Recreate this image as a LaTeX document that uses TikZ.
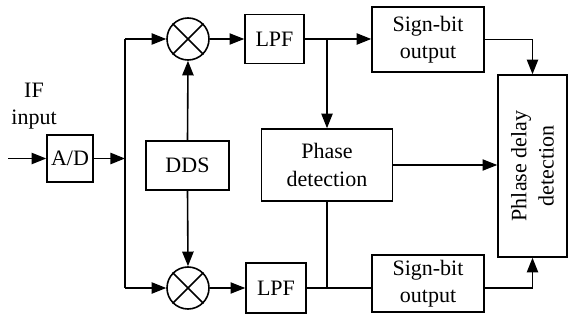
\documentclass[tikz,border=0pt]{standalone}
\usepackage{fontspec}
\setmainfont{Liberation Serif}
\usetikzlibrary{arrows.meta}
\begin{document}
\begin{tikzpicture}[x=0.75pt,y=-0.75pt,
  every node/.style={font=\fontsize{16.5}{20.5}\selectfont},
  blk/.style={draw,line width=1.2pt,inner sep=0pt,align=center},
  mixer/.style={draw,circle,line width=1.2pt,minimum size=31.5pt,inner sep=0pt},
  wire/.style={line width=1.2pt},
  thinwire/.style={line width=0.8pt},
  arr/.style={line width=1.2pt,-{Triangle[length=11pt,width=8.5pt]}},
  thinarr/.style={line width=0.8pt,-{Triangle[length=11pt,width=8.5pt]}}]
\useasboundingbox (0,0) rectangle (568,321);

% nodes
\node (iflabel) at (34,106) [align=center] {IF\\input};
\node[blk,minimum width=34.5pt,minimum height=35.25pt] (ad) at (70,158.5) {A/D};
\node[mixer] (mixT) at (188,39) {};
\node[mixer] (mixB) at (188,288) {};
\node[blk,minimum width=44.25pt,minimum height=36.75pt] (lpfT) at (274.5,39) {LPF};
\node[blk,minimum width=45pt,minimum height=37.5pt] (lpfB) at (276,288) {LPF};
\node[blk,minimum width=62.25pt,minimum height=36.75pt] (dds) at (187.5,165.5) {DDS};
\node[blk,minimum width=84pt,minimum height=48.4pt] (sgnT) at (428,39.5) {Sign-bit\\output};
\node[blk,minimum width=84pt,minimum height=42.75pt] (sgnB) at (428,283.5) {Sign-bit\\output};
\node[blk,minimum width=98.25pt,minimum height=54pt] (phase) at (327,165) {Phase\\detection};
\node[blk,minimum width=51.75pt,minimum height=136.5pt] (pdd) at (532.5,166) {};
\node[rotate=90,align=center] (pddtext) at (pdd.center) {Phlase delay\\detection};

% mixer crosses
\foreach \m in {mixT,mixB}{
  \draw[line width=1.2pt] (\m.45) -- (\m.225);
  \draw[line width=1.2pt] (\m.135) -- (\m.-45);
}

% coordinates
\coordinate (inp) at (8,158.5);
\coordinate (vt) at (125,39);
\coordinate (vb) at (125,288);
\coordinate (vm) at (125,158.5);
\coordinate (bt) at (327,39);

% connectors
\draw[arr] (inp) -- (ad.west);
\draw[arr] (ad.east) -- (vm);
\draw[wire] (vt) -- (vb);
\draw[arr] (vt) -- (mixT.west);
\draw[arr] (vb) -- (mixB.west);
\draw[arr] (dds.north) -- (mixT.south);
\draw[arr] (dds.south) -- (mixB.north);
\draw[thinarr] (mixT.east) -- (lpfT.west);
\draw[thinarr] (mixB.east) -- (lpfB.west);
\draw[arr] (lpfT.east) -- (lpfT.east -| sgnT.west);
\draw[arr] (bt) -- (phase.north);
\draw[wire] (phase.south) -- (phase.south |- lpfB.east);
\draw[thinwire] (lpfB.east) -- (lpfB.east -| sgnB.west);
\draw[arr] (sgnT.east) -| (pdd.north);
\draw[arr] (lpfB.east -| sgnB.east) -| (pdd.south);
\draw[thinarr] (phase.east) -- (phase.east -| pdd.west);
\end{tikzpicture}
\end{document}
